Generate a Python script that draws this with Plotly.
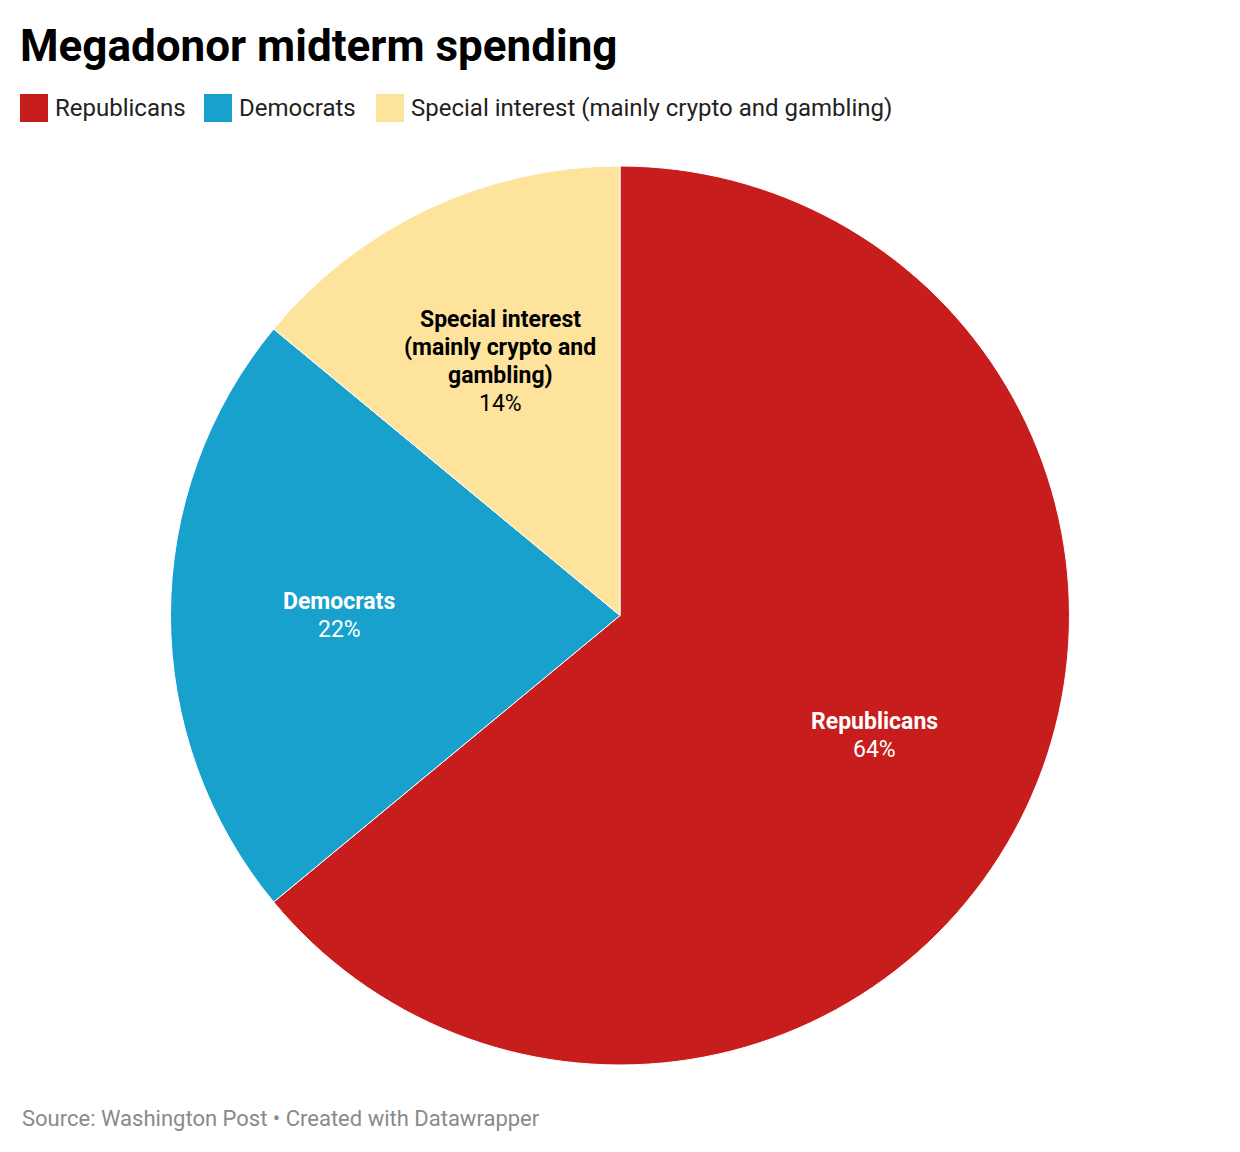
import math
import plotly.graph_objects as go

# data
groups = ["Republicans", "Democrats", "Special interest (mainly crypto and gambling)"]
inside_names = ["Republicans", "Democrats", "Special interest<br>(mainly crypto and<br>gambling)"]
shares = [64, 22, 14]
colors = ["#c71e1d", "#18a1cd", "#fee39c"]
label_colors = ["#ffffff", "#ffffff", "#000000"]

# page has an 8px body margin, so the figure is a bit smaller than the window
FW, FH = 1224, 1136
TOP, BOTTOM = 158, 79
PH = FH - TOP - BOTTOM
R = min(FW, PH) / 2
FONT = "Roboto"
LINE = 28


def px(x):
    return x / FW


def py(y):
    return (FH - BOTTOM - y) / PH


fig = go.Figure()
fig.add_trace(go.Pie(
    labels=groups,
    values=shares,
    sort=False,
    direction="clockwise",
    rotation=0,
    marker=dict(colors=colors, line=dict(color="#ffffff", width=1)),
    textinfo="none",
    hoverinfo="label+percent",
    showlegend=False,
))

# slice labels on the bisector at 0.625 of the radius, one annotation per line
total = sum(shares)
cum = 0
for name, s, tc in zip(inside_names, shares, label_colors):
    theta = 2 * math.pi * (cum + s / 2) / total
    cum += s
    dx = 0.625 * R * math.sin(theta)
    dy = 0.625 * R * math.cos(theta)
    lines = [f"<b>{t}</b>" for t in name.split("<br>")] + [f"{round(100 * s / total)}%"]
    n = len(lines)
    for i, t in enumerate(lines):
        fig.add_annotation(
            text=t, xref="paper", yref="paper", x=0.5 + dx / FW, y=0.5 + dy / PH,
            yshift=((n - 1) / 2 - i) * LINE,
            xanchor="center", yanchor="middle", showarrow=False,
            font=dict(family=FONT, size=23, color=tc),
        )

# legend row
legend_x = [12, 196, 368]
for g, c, lx in zip(groups, colors, legend_x):
    fig.add_shape(type="rect", xref="paper", yref="paper",
                  x0=px(lx), x1=px(lx + 28), y0=py(114), y1=py(86),
                  fillcolor=c, line=dict(width=0))
    fig.add_annotation(
        text=g, xref="paper", yref="paper", x=px(lx + 33), y=py(100),
        xanchor="left", yanchor="middle", showarrow=False,
        font=dict(family=FONT, size=24, color="#222222"),
    )

fig.add_annotation(
    text="Source: Washington Post • Created with Datawrapper",
    xref="paper", yref="paper", x=px(12), y=py(1110),
    xanchor="left", yanchor="middle", showarrow=False,
    font=dict(family=FONT, size=22, color="#8a8a8a"),
)

fig.update_layout(
    width=FW, height=FH,
    title=dict(text="<b>Megadonor midterm spending</b>", x=12 / FW, xanchor="left",
               y=1 - 38 / FH, yanchor="middle",
               font=dict(family=FONT, size=44, color="#000000")),
    margin=dict(l=0, r=0, t=TOP, b=BOTTOM),
    paper_bgcolor="#ffffff",
    plot_bgcolor="#ffffff",
    font=dict(family=FONT),
)

fig.write_html("out.html")
